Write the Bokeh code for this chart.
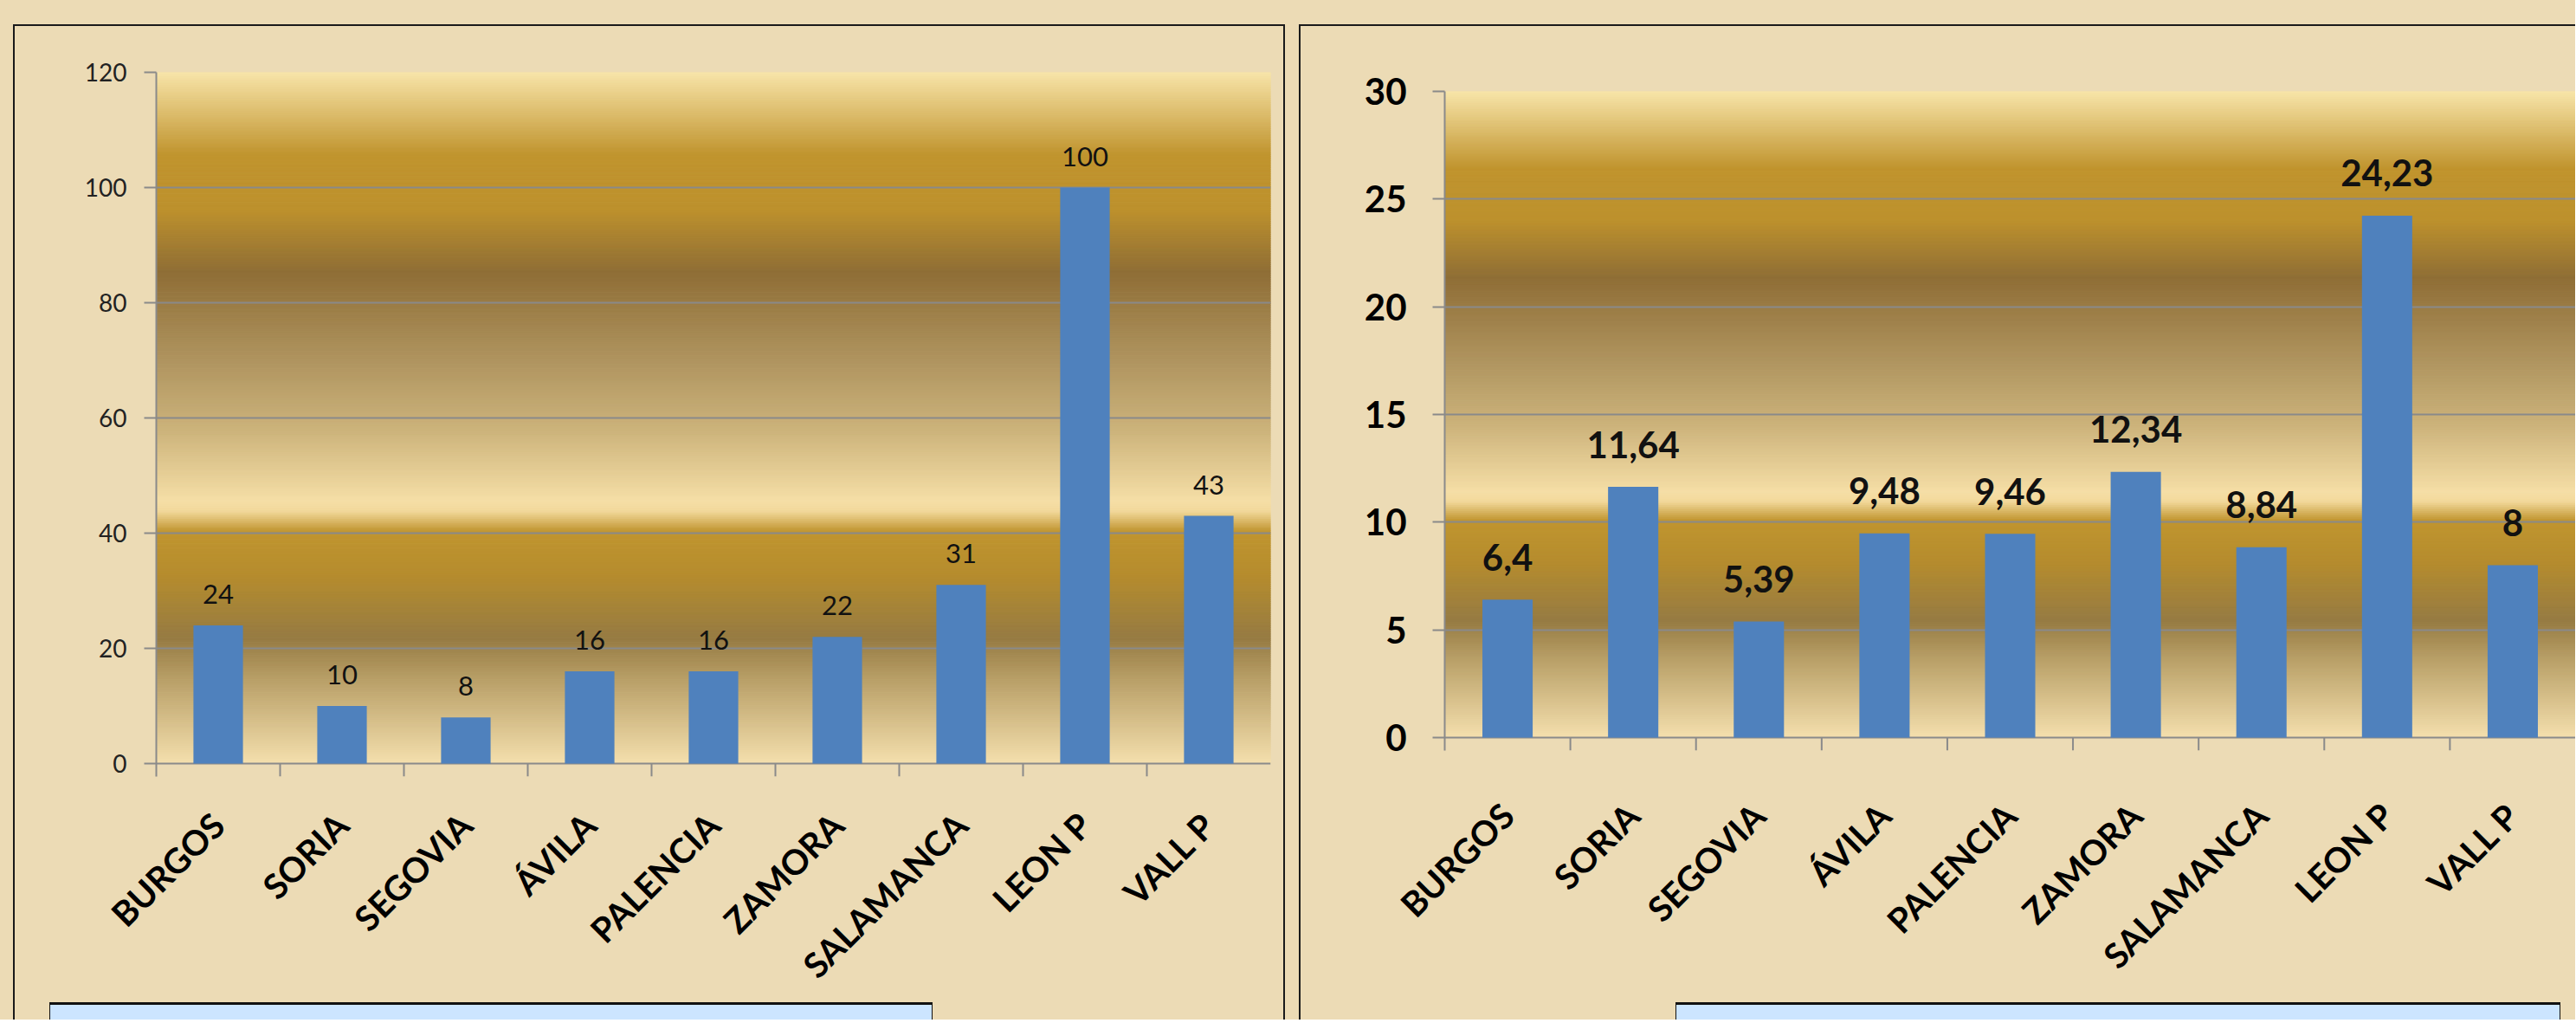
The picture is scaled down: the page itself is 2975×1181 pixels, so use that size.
import math
import numpy as np
from bokeh.plotting import figure
from bokeh.models import FactorRange, Range1d, FixedTicker, ColumnDataSource, Div
from bokeh.layouts import row, column
from bokeh.core.properties import value
from bokeh.embed import file_html
from bokeh.resources import INLINE

# ---------------- data ----------------
categories = ["BURGOS", "SORIA", "SEGOVIA", "ÁVILA", "PALENCIA", "ZAMORA", "SALAMANCA", "LEON P", "VALL P"]
left_values = [24, 10, 8, 16, 16, 22, 31, 100, 43]
right_values = [6.4, 11.64, 5.39, 9.48, 9.46, 12.34, 8.84, 24.23, 8]
left_yticks = [0, 20, 40, 60, 80, 100, 120]
right_yticks = [0, 5, 10, 15, 20, 25, 30]

# ---------------- style ----------------
PARCH = "#ECDBB5"
BAR = "#4F81BD"
GRID = "#8A8A8A"
FONT = "Lato"
TICK_PX = 15  # length of the category separator ticks below the zero line

GRAD_STOPS = [
    (0.00, "#F8E5AA"), (0.12, "#C0942E"), (0.20, "#BD912D"), (0.29, "#8F6E36"),
    (0.42, "#B09560"), (0.52, "#CDB47C"), (0.62, "#F5DEA6"), (0.635, "#F3D99C"),
    (0.665, "#C0952F"), (0.73, "#B58C2E"), (0.82, "#967B43"), (0.88, "#B9A068"),
    (1.00, "#F4DFAD"),
]


def _rgb(h):
    h = h.lstrip("#")
    return np.array([int(h[i:i + 2], 16) for i in (0, 2, 4)], dtype=float)


def gradient_color(t):
    for (t0, c0), (t1, c1) in zip(GRAD_STOPS[:-1], GRAD_STOPS[1:]):
        if t0 <= t <= t1:
            f = 0 if t1 == t0 else (t - t0) / (t1 - t0)
            c = _rgb(c0) * (1 - f) + _rgb(c1) * f
            return "#%02X%02X%02X" % tuple(int(round(v)) for v in c)
    return GRAD_STOPS[-1][1]


def fmt(v):
    return ("%g" % v).replace(".", ",")


def make_chart(values, yticks, width, height, bl, br, bt, plot_px, tick_size, tick_style,
               tick_color, tick_standoff, lab_size, lab_style, lab_offset, cat_size, cat_standoff):
    ymin, ymax = yticks[0], yticks[-1]
    pad = TICK_PX * (ymax - ymin) / plot_px
    bb = height - bt - plot_px - TICK_PX
    p = figure(x_range=FactorRange(factors=categories),
               y_range=Range1d(ymin - pad, ymax),
               width=width, height=height, output_backend="svg", toolbar_location=None,
               min_border_left=bl, min_border_right=br, min_border_top=bt, min_border_bottom=bb)
    p.border_fill_color = PARCH
    p.border_fill_alpha = 0
    p.background_fill_color = PARCH
    p.outline_line_color = None

    # gradient plot-area fill (horizontal strips between ymin and ymax)
    n = 320
    edges = np.linspace(ymax, ymin, n + 1)
    cols = [gradient_color((i + 0.5) / n) for i in range(n)]
    gsrc = ColumnDataSource(dict(top=edges[:-1], bottom=edges[1:], color=cols))
    gr = p.quad(left=0, right=len(categories), top="top", bottom="bottom",
                fill_color="color", line_color="color", line_width=1, source=gsrc)
    gr.level = "image"

    # category separator ticks below the zero line
    bounds = list(range(1, len(categories)))
    p.segment(x0=bounds, x1=bounds, y0=[ymin] * len(bounds), y1=[ymin - pad] * len(bounds),
              line_color=GRID, line_width=2)

    # bars + labels
    src = ColumnDataSource(dict(x=categories, top=values, text=[fmt(v) for v in values]))
    p.vbar(x="x", top="top", width=0.4, fill_color=BAR, line_color=None, source=src)
    p.text(x="x", y="top", text="text", source=src, text_align="center",
           text_baseline="alphabetic", y_offset=lab_offset,
           text_font=value(FONT), text_font_size=lab_size, text_font_style=lab_style,
           text_color="#111111")

    # y axis
    ya = p.yaxis[0]
    ya.ticker = FixedTicker(ticks=yticks)
    ya.major_tick_out = 14
    ya.major_tick_in = 0
    ya.minor_tick_line_color = None
    ya.axis_line_color = GRID
    ya.axis_line_width = 2
    ya.major_tick_line_color = GRID
    ya.major_tick_line_width = 2
    ya.major_label_text_font = FONT
    ya.major_label_text_font_size = tick_size
    ya.major_label_text_font_style = tick_style
    ya.major_label_text_color = tick_color
    ya.major_label_standoff = tick_standoff
    p.ygrid.ticker = FixedTicker(ticks=yticks)
    p.ygrid.grid_line_color = GRID
    p.ygrid.grid_line_width = 2
    p.xgrid.grid_line_color = None

    # category axis
    cat = p.xaxis[0]
    cat.major_tick_line_color = None
    cat.major_tick_out = 0
    cat.axis_line_color = None
    cat.major_label_orientation = math.pi / 4
    cat.major_label_text_font = FONT
    cat.major_label_text_font_size = cat_size
    cat.major_label_text_font_style = "bold"
    cat.major_label_text_color = "#000000"
    cat.major_label_standoff = cat_standoff
    return p


p1 = make_chart(left_values, left_yticks, 1465, 1147, 163, 15, 53, 798,
                "28px", "normal", "#222222", 20, "31px", "normal", -36, "40px", 49)
p2 = make_chart(right_values, right_yticks, 1472, 1147, 166, 0, 75, 746,
                "42px", "bold", "#000000", 30, "42px", "bold", -49, "40px", 68)

box_style = {"background-color": "#CCE5FF", "border-top": "3px solid #111111",
             "border-left": "1.5px solid #111111", "border-right": "1.5px solid #111111",
             "position": "relative", "z-index": "2"}
box1 = Div(text="", width=1020, height=20, margin=(-20, 0, 0, 40), styles=box_style)
box2 = Div(text="", width=1022, height=20, margin=(-20, 0, 0, 433), styles=box_style)

panel_style_l = {"border-top": "2px solid #1A1A1A", "border-left": "2px solid #1A1A1A",
                 "border-right": "2px solid #1A1A1A", "background-color": PARCH}
panel_style_r = {"border-top": "2px solid #1A1A1A", "border-left": "2px solid #1A1A1A",
                 "background-color": PARCH}
left = column(p1, box1, margin=(28, 0, 0, 15), styles=panel_style_l)
right = column(p2, box2, margin=(28, 0, 0, 16), styles=panel_style_r)
layout = row(left, right, styles={"background-color": PARCH})

open("out.html", "w").write(file_html(layout, INLINE))
